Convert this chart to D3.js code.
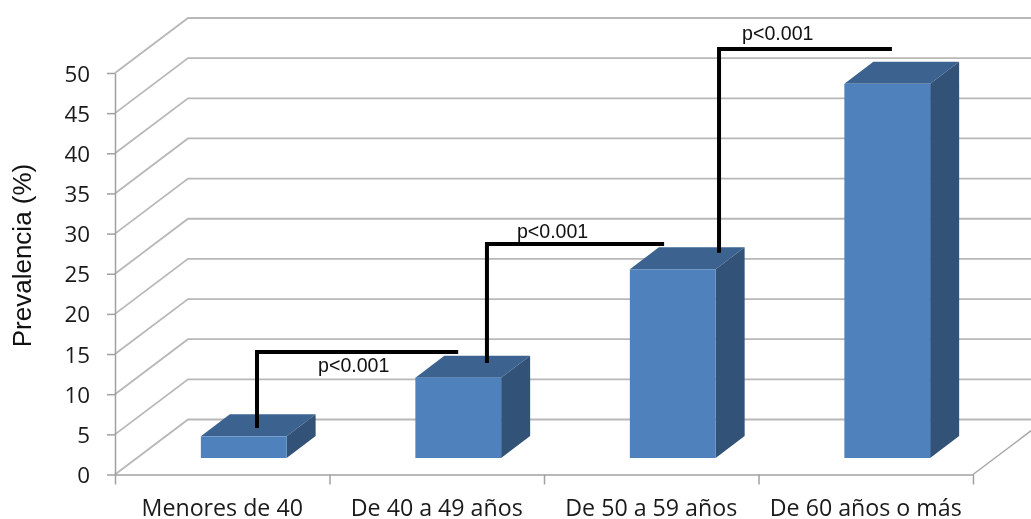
<!DOCTYPE html>
<html>
<head>
<meta charset="utf-8">
<script src="https://cdn.jsdelivr.net/npm/d3@7"></script>
<style>
  html, body { margin: 0; padding: 0; background: #fff; overflow: hidden; }
  svg { display: block; filter: blur(0.4px); }
  .tick text { fill: #1a1a1a; font-family: "Open Sans", sans-serif; }
</style>
</head>
<body>
<div id="chart"></div>
<script>
// values
var categories = ["Menores de 40", "De 40 a 49 años", "De 50 a 59 años", "De 60 años o más"];
var prevalencia = [2.7, 10, 23.5, 46.6];
var yTicks = [0, 5, 10, 15, 20, 25, 30, 35, 40, 45, 50];

// significance brackets: x in category slots (0-4), y in prevalence units
var bracketX = [0.662, 1.734, 2.816];
var bracketEnd = [1.6, 2.56, 3.622];
var bracketTop = [15.25, 28.7, 53];
var bracketBottom = [5.8, 13.9, 27.6];
var pLabels = ["p<0.001", "p<0.001", "p<0.001"];
var pLabelX = [1.113, 2.04, 3.09];
var pLabelY = [13.65, 30.25, 54.95];

var width = 1031, height = 519;
var margin = { left: 115, right: 58, top: 73, bottom: 44.5 };
var plotRight = width - margin.right, plotBottom = height - margin.bottom;

// fake 3D offsets, px
var wall = { dx: 73, dy: -55 };    // front edge to back wall
var barShift = { dx: 21.5, dy: -16.5 }; // front edge to bar front face
var barDepth = { dx: 29, dy: -22 };

var x = d3.scaleBand().domain(categories).range([margin.left, plotRight]).paddingInner(0.6).paddingOuter(0.3);
var slot = d3.scaleLinear().domain([0, 4]).range([margin.left, plotRight]);
var y = d3.scaleLinear().domain([0, 50]).range([plotBottom, margin.top]);

var svg = d3.select("#chart").append("svg").attr("width", width).attr("height", height);

// back wall gridlines + left side wall diagonals
var grid = svg.append("g").attr("fill", "none");
grid.selectAll(".grid").data(yTicks).enter().append("polyline")
    .attr("class", "grid")
    .attr("stroke", "#b8b8b8")
    .attr("stroke-width", 1.8)
    .attr("points", function (d) {
        return [[margin.left, y(d)], [margin.left + wall.dx, y(d) + wall.dy], [plotRight + wall.dx, y(d) + wall.dy]].join(" ");
    });

// floor right edge
grid.append("line")
    .attr("x1", plotRight).attr("y1", y(0))
    .attr("x2", plotRight + wall.dx).attr("y2", y(0) + wall.dy)
    .attr("stroke", "#a8a8a8").attr("stroke-width", 1.5);

// axes
var yAxis = svg.append("g")
    .attr("transform", "translate(" + margin.left + ",0)")
    .call(d3.axisLeft(y).tickValues(yTicks).tickSize(8).tickPadding(17).tickSizeOuter(0));
yAxis.selectAll("text").style("font-size", "22.4px").attr("dy", "0.36em");

var xAxis = svg.append("g")
    .attr("transform", "translate(0," + plotBottom + ")")
    .call(d3.axisBottom(slot).tickValues([0, 1, 2, 3, 4]).tickSize(10).tickSizeOuter(0).tickFormat(""));

svg.selectAll(".domain, .tick line").attr("stroke", "#a0a0a0").attr("stroke-width", 1.5);

svg.append("g").selectAll("text").data(categories).enter().append("text")
    .attr("x", function (d) { return x(d) + x.bandwidth() / 2; })
    .attr("y", 516)
    .attr("text-anchor", "middle")
    .style("font-family", '"Open Sans", sans-serif')
    .style("font-size", "23.2px")
    .style("fill", "#1a1a1a")
    .text(function (d) { return d; });

// y title
svg.append("text")
    .attr("transform", "translate(31,255.5) rotate(-90)")
    .attr("text-anchor", "middle")
    .style("font-family", '"Liberation Sans", Arial, sans-serif')
    .style("font-size", "26px")
    .style("fill", "#111")
    .text("Prevalencia (%)");

// bars
var bars = svg.append("g").selectAll(".bar")
    .data(categories.map(function (c, i) { return { name: c, value: prevalencia[i] }; }))
    .enter().append("g")
    .attr("class", "bar")
    .attr("transform", "translate(" + barShift.dx + "," + barShift.dy + ")");

bars.append("polygon") // top
    .attr("fill", "#3c6390")
    .attr("points", function (d) {
        var l = x(d.name), r = l + x.bandwidth(), t = y(d.value);
        return [[l, t], [r, t], [r + barDepth.dx, t + barDepth.dy], [l + barDepth.dx, t + barDepth.dy]].join(" ");
    });

bars.append("polygon") // side
    .attr("fill", "#325278")
    .attr("points", function (d) {
        var r = x(d.name) + x.bandwidth(), t = y(d.value), b = y(0);
        return [[r, t], [r + barDepth.dx, t + barDepth.dy], [r + barDepth.dx, b + barDepth.dy], [r, b]].join(" ");
    });

bars.append("rect") // front
    .attr("fill", "#4f81bd")
    .attr("x", function (d) { return x(d.name); })
    .attr("y", function (d) { return y(d.value); })
    .attr("width", x.bandwidth())
    .attr("height", function (d) { return y(0) - y(d.value); });

// brackets
svg.append("g").selectAll("polyline").data(bracketX).enter().append("polyline")
    .attr("fill", "none")
    .attr("stroke", "#000")
    .attr("stroke-width", 4)
    .attr("points", function (d, i) {
        return [[slot(d), y(bracketBottom[i])], [slot(d), y(bracketTop[i])], [slot(bracketEnd[i]), y(bracketTop[i])]].join(" ");
    });

svg.append("g").selectAll("text").data(pLabels).enter().append("text")
    .attr("x", function (d, i) { return slot(pLabelX[i]); })
    .attr("y", function (d, i) { return y(pLabelY[i]); })
    .attr("dy", "0.35em")
    .attr("text-anchor", "middle")
    .style("font-family", '"Liberation Sans", Arial, sans-serif')
    .style("font-size", "19.6px")
    .style("fill", "#111")
    .text(function (d) { return d; });
</script>
</body>
</html>
